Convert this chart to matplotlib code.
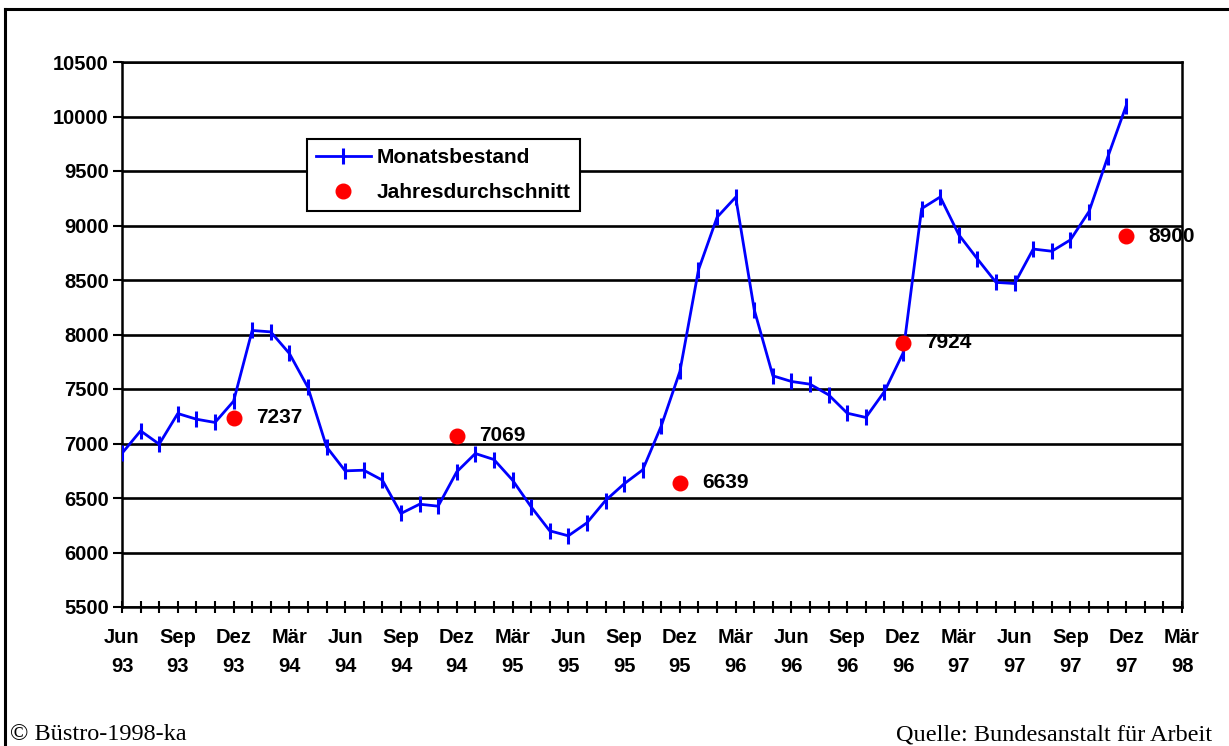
#!/usr/bin/env python3
# encoding: utf-8

import matplotlib
matplotlib.use("Agg")
import matplotlib.pyplot as plt
from matplotlib.lines import Line2D
import numpy as np

# monthly values Jun 93 .. Dez 97
monatsbestand = [6910, 7116, 6994, 7275, 7223, 7193, 7388,
                 8037, 8024, 7826, 7514, 6969, 6749, 6755, 6664, 6358, 6443, 6425, 6740,
                 6908, 6853, 6664, 6419, 6199, 6153, 6272, 6477, 6630, 6758, 7162, 7661,
                 8593, 9076, 9260, 8226, 7621, 7569, 7544, 7446, 7278, 7239, 7477, 7829,
                 9155, 9262, 8915, 8693, 8478, 8468, 8784, 8764, 8868, 9128, 9624, 10100]

# yearly averages, placed on the December of each year
jahres_monat = [6, 18, 30, 42, 54]
jahresdurchschnitt = [7237, 7069, 6639, 7924, 8900]

tick_labels = ["Jun\n93", "Sep\n93", "Dez\n93", "Mär\n94", "Jun\n94", "Sep\n94",
               "Dez\n94", "Mär\n95", "Jun\n95", "Sep\n95", "Dez\n95", "Mär\n96",
               "Jun\n96", "Sep\n96", "Dez\n96", "Mär\n97", "Jun\n97", "Sep\n97",
               "Dez\n97", "Mär\n98"]

plt.rcParams['font.family'] = ['Liberation Sans', 'DejaVu Sans']
plt.rcParams['font.weight'] = 'bold'

fig = plt.figure(figsize=(12.29, 7.46), dpi=100)
ax = fig.add_axes([122/1229, 1 - 607/746, 1060/1229, 545/746])

x = np.arange(len(monatsbestand))
ax.plot(x, monatsbestand, c=(0, 0, 1), lw=2.0, marker='|', ms=12, mew=2.2,
        label="Monatsbestand", zorder=3)
ax.plot(jahres_monat, jahresdurchschnitt, ls='none', marker='o', ms=10.5,
        c=(1, 0, 0), label="Jahresdurchschnitt", zorder=4)

for m, v in zip(jahres_monat, jahresdurchschnitt):
    ax.annotate(str(v), (m, v), xytext=(16, 0), textcoords='offset points',
                va='center', ha='left', fontsize=15, fontweight='bold')

ax.set_xlim(0, 57)
ax.set_ylim(5500, 10500)
ax.set_yticks(np.arange(5500, 10501, 500))
ax.set_xticks(np.arange(0, 58, 3))
ax.set_xticklabels(tick_labels, linespacing=1.7)
ax.set_xticks(np.arange(0, 58, 1), minor=True)

ax.yaxis.grid(True, color='black', lw=1.9)
ax.tick_params(axis='y', direction='out', length=6.5, width=1.5, labelsize=14.5, pad=3)
ax.tick_params(axis='x', which='both', direction='inout', length=8, width=1.5,
               labelsize=14.5, pad=11)

for s in ['left', 'right', 'bottom', 'top']:
    ax.spines[s].set_linewidth(1.8)

leg = ax.legend(loc='upper left', bbox_to_anchor=((307-122)/1060, (607-139)/545),
                borderaxespad=0, fancybox=False, edgecolor='black', framealpha=1,
                prop={'size': 15, 'weight': 'bold'}, handlelength=2.6,
                labelspacing=0.75, handletextpad=0.3, borderpad=0.45)
leg.get_frame().set_linewidth(1.5)

# outer frame (top and left only, rest is cut off)
fig.add_artist(Line2D([5/1229, 1], [1 - 9/746, 1 - 9/746], transform=fig.transFigure,
                      c='black', lw=2.2))
fig.add_artist(Line2D([5/1229, 5/1229], [0, 1 - 9/746], transform=fig.transFigure,
                      c='black', lw=2.2))

fig.text(10/1229, 1 - 740/746, "© Büstro-1998-ka", family='Liberation Serif',
         fontweight='normal', fontsize=17.5, va='baseline', ha='left')
fig.text(1212/1229, 1 - 740/746, "Quelle: Bundesanstalt für Arbeit",
         family='Liberation Serif', fontweight='normal', fontsize=17.5,
         va='baseline', ha='right')

plt.savefig("out.png", dpi=100)
